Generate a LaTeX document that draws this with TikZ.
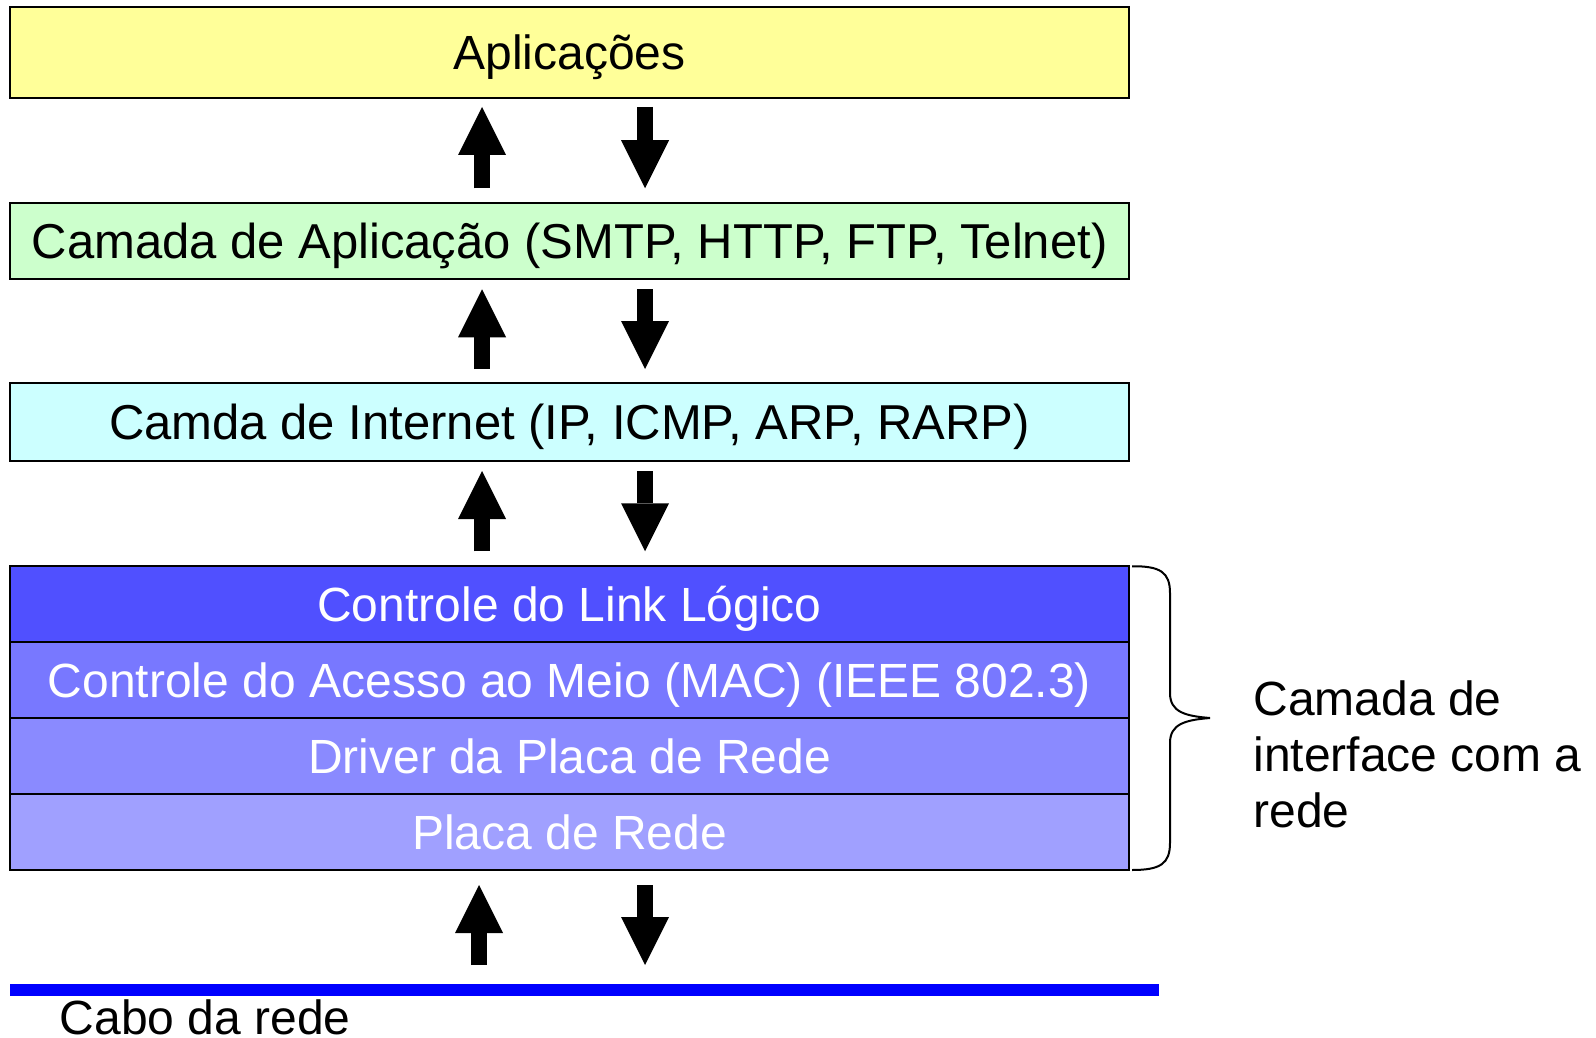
\documentclass[tikz,border=0pt]{standalone}
\usepackage{fontspec}
\setmainfont{Liberation Sans}
\usetikzlibrary{arrows.meta,calc}

\definecolor{appYellow}{HTML}{FFFF99}
\definecolor{appGreen}{HTML}{CCFFCC}
\definecolor{netCyan}{HTML}{CCFFFF}
\definecolor{llcBlue}{HTML}{5050FF}
\definecolor{macBlue}{HTML}{7878FF}
\definecolor{drvBlue}{HTML}{8A8AFF}
\definecolor{nicBlue}{HTML}{A0A0FF}
\definecolor{cableBlue}{HTML}{0000FF}

\begin{document}
\begin{tikzpicture}[x=0.5pt,y=-0.5pt,
  txt/.style={font=\fontsize{24pt}{28pt}\selectfont},
  bigtxt/.style={font=\fontsize{24.5pt}{28pt}\selectfont},
  layer/.style={txt,draw=black,line width=1pt,inner sep=0pt,outer sep=0pt,
    minimum width=559.5pt,minimum height=38pt,text height=17.2pt,text depth=0pt},
  linklayer/.style={layer,text=white},
  flow/.style={line width=8pt,-{Triangle[length=24pt,width=24pt,line width=0pt]}},
  bracepath/.style={line width=1pt},
  cable/.style={cableBlue,line width=6pt},
]
\useasboundingbox (0,0) rectangle (1596,1038);

% protocol stack
\node[layer,fill=appYellow,minimum height=45.5pt] (apl) at (569.5,52.5) {Aplicações};
\node[layer,bigtxt,fill=appGreen] (app) at (569.5,241.25) {Camada de Aplicação (SMTP, HTTP, FTP, Telnet)};
\node[layer,bigtxt,fill=netCyan,minimum height=39pt] (inet) at (569.5,422) {Camda de Internet (IP, ICMP, ARP, RARP)};
\node[linklayer,fill=llcBlue] (llc) at (569.5,604.25) {Controle do Link Lógico};
\node[linklayer,fill=macBlue] (mac) at (569.5,680) {Controle do Acesso ao Meio (MAC) (IEEE 802.3)};
\node[linklayer,fill=drvBlue] (drv) at (569.5,756) {Driver da Placa de Rede};
\node[linklayer,fill=nicBlue] (nic) at (569.5,832) {Placa de Rede};

% network cable
\coordinate (cableL) at (10,990);
\coordinate (cableR) at (1159,990);
\draw[cable] (cableL) -- (cableR);
\node[txt,anchor=base west,inner sep=0pt] (cabo) at (59.5,1034) {Cabo da rede};

% up / down flows between layers
\draw[flow] ($(app.north west)+(472,-15)$) -- ($(apl.south west)+(472,9)$);
\draw[flow] ($(apl.south west)+(635,9)$) -- ($(app.north west)+(635,-15)$);

\draw[flow] ($(inet.north west)+(472,-14)$) -- ($(app.south west)+(472,10)$);
\draw[flow] ($(app.south west)+(635,10)$) -- ($(inet.north west)+(635,-14)$);

\draw[flow] ($(llc.north west)+(472,-15)$) -- ($(inet.south west)+(472,10)$);
\draw[flow] ($(inet.south west)+(635,10)$) -- ($(llc.north west)+(635,-15)$);

\draw[flow] ($(cableL)+(469,-25)$) -- ($(nic.south west)+(469,15)$);
\draw[flow] ($(nic.south west)+(635,15)$) -- ($(cableL)+(635,-25)$);

% brace over the network interface layers
\coordinate (brTop) at ($(llc.north east)+(3,0)$);
\coordinate (brBot) at ($(nic.south east)+(3,0)$);
\coordinate (brTip) at (1210,718);
\draw[bracepath] (brTop) .. controls (1160,566) and (1170,572) .. (1170,593)
  -- (1170,693) .. controls (1170,712) and (1185,716) .. (brTip)
  .. controls (1185,720) and (1170,724) .. (1170,743)
  -- (1170,843) .. controls (1170,864) and (1160,870) .. (brBot);

\node[txt,anchor=base west,inner sep=0pt] (lbl1) at (1253,715) {Camada de};
\node[txt,anchor=base west,inner sep=0pt] (lbl2) at (1253,771) {interface com a};
\node[txt,anchor=base west,inner sep=0pt] (lbl3) at (1253,827) {rede};
\end{tikzpicture}
\end{document}
